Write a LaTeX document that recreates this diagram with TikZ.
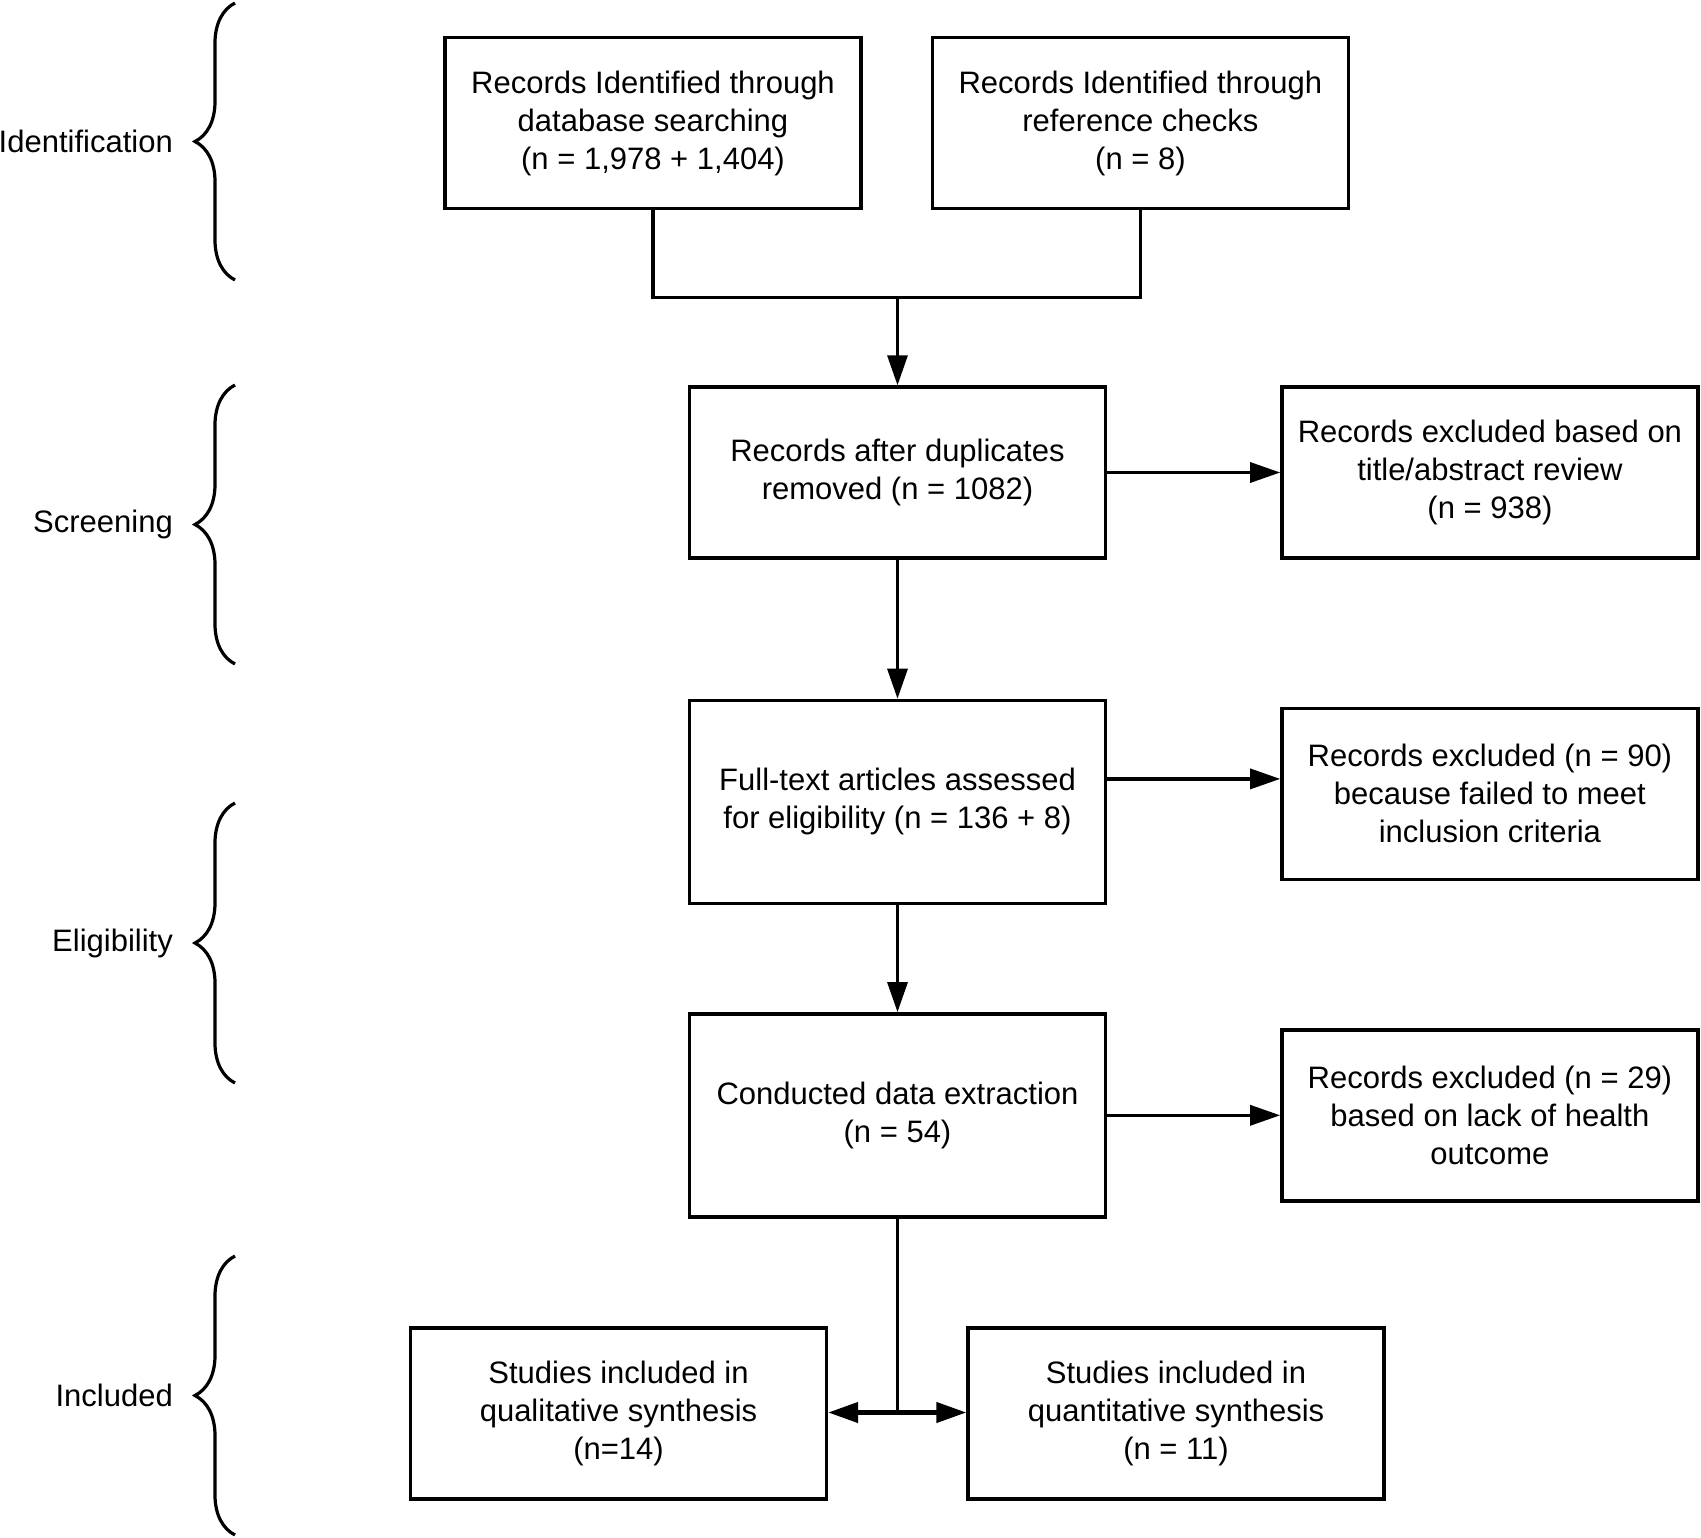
\documentclass[tikz,border=0pt]{standalone}
\usepackage{fontspec}
\setmainfont{Liberation Sans}
\usetikzlibrary{positioning,arrows.meta,decorations.pathreplacing}

\tikzset{
  flowbox/.style={draw, line width=3.4pt, minimum width=416pt, minimum height=171pt,
    align=center, inner sep=6pt, font=\fontsize{31pt}{38pt}\selectfont},
  tallbox/.style={flowbox, minimum height=203pt},
  flowline/.style={line width=3.2pt},
  flowarrow/.style={flowline, -{Triangle[length=30pt,width=20pt]}},
  stagebrace/.style={line width=3.2pt, decorate, decoration={brace, amplitude=40pt}},
  stagelabel/.style={anchor=east, inner sep=0pt, font=\fontsize{31pt}{38pt}\selectfont}
}

\begin{document}
\begin{tikzpicture}[x=1pt, y=-1pt]
    \useasboundingbox (0,0) rectangle (1701,1538);

    \node[flowbox] (dbsearch) at (653,123)
      {Records Identified through\\ database searching\\ (n = 1,978 + 1,404)};
    \node[flowbox, right=68pt of dbsearch] (refcheck)
      {Records Identified through\\ reference checks\\ (n = 8)};
    \node[flowbox] (dedup) at (897.5,472.5)
      {Records after duplicates\\ removed (n = 1082)};
    \node[flowbox, right=173pt of dedup] (excltitle)
      {Records excluded based on\\ title/abstract review\\ (n = 938)};
    \node[tallbox, below=139pt of dedup] (fulltext)
      {Full-text articles assessed\\ for eligibility (n = 136 + 8)};
    \node[flowbox, below=147pt of excltitle] (exclcrit)
      {Records excluded (n = 90)\\ because failed to meet\\ inclusion criteria};
    \node[tallbox, below=107pt of fulltext] (extract)
      {Conducted data extraction\\ (n = 54)};
    \node[flowbox, right=173pt of extract] (excloutc)
      {Records excluded (n = 29)\\ based on lack of health\\ outcome};
    \node[flowbox] (qual) at (618.5,1413.5)
      {Studies included in\\ qualitative synthesis\\ (n=14)};
    \node[flowbox] (quant) at (1176,1413.5)
      {Studies included in\\ quantitative synthesis\\ (n = 11)};

    \coordinate[above=88pt of dedup.north] (merge);
    \coordinate[below=194pt of extract.south] (split);

    \draw[flowline] (dbsearch.south) |- (merge) -| (refcheck.south);
    \draw[flowarrow] (merge) -- (dedup);
    \draw[flowarrow] (dedup) -- (excltitle);
    \draw[flowarrow] (dedup) -- (fulltext);
    \draw[flowarrow] ([yshift=23pt]fulltext.east) -- ([yshift=23pt]fulltext.east -| exclcrit.west);
    \draw[flowarrow] (fulltext) -- (extract);
    \draw[flowarrow] (extract) -- (excloutc);
    \draw[flowline] (extract) -- (split);
    \draw[flowarrow, line width=4.4pt] (split) -- (split -| qual.east);
    \draw[flowarrow, line width=4.4pt] (split) -- (split -| quant.west);

    \foreach \top/\bot/\name in {3/280/Identification, 385/664/Screening,
                                 803/1083/Eligibility, 1256/1535/Included} {
      \draw[stagebrace] (235,\bot) -- (235,\top);
      \node[stagelabel] (stage-\name) at (173,{(\top+\bot)/2}) {\name};
    }
\end{tikzpicture}
\end{document}
